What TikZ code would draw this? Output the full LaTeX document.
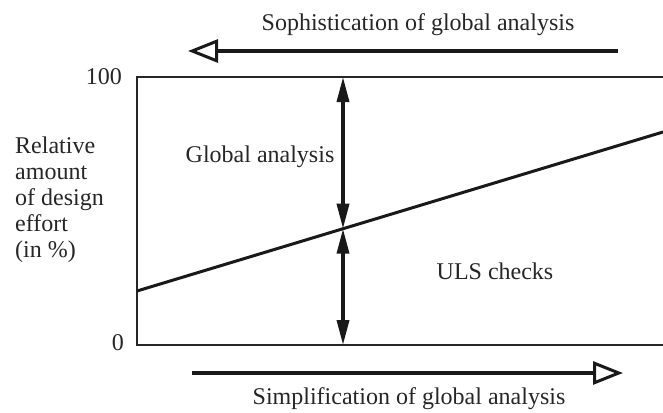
\documentclass[tikz,border=0pt]{standalone}
\usepackage{fontspec}
\setmainfont{Liberation Serif}
\usetikzlibrary{arrows.meta,positioning}

\begin{document}
\begin{tikzpicture}[x=1pt,y=-1pt,
  font=\fontsize{24}{26}\selectfont,
  lbl/.style={inner sep=0pt, text=black!85},
  frame/.style={draw=black!85, line width=2pt},
  effort/.style={draw=black!90, line width=3pt},
  share/.style={draw=black!90, line width=3.5pt,
                {Triangle[length=25pt,width=12pt]}-{Triangle[length=25pt,width=12pt]}},
  trend/.style={draw=black!90, line width=4pt,
                -{Triangle[open,length=30pt,width=23pt,line width=3pt]}}]
  \useasboundingbox (0,0) rectangle (663,412);
  \clip (0,0) rectangle (663,412);
  % diagram frame, open on the right
  \draw[frame] (690,77) -| (137,345) -- (690,345);
  \coordinate (lineL) at (137,291);
  \coordinate (lineR) at (663,132);
  \coordinate (top) at (343,77);
  \coordinate (mid) at (343,228.7);
  \coordinate (bot) at (343,345);
  \draw[effort] (lineL) -- (lineR);
  \draw[share] (top) -- (mid);
  \draw[share] (mid) -- (bot);
  % axis labels
  \node[lbl, anchor=east] (hundred) at (122,77) {100};
  \node[lbl, anchor=east] (zero) at (124,343) {0};
  \node[lbl, anchor=north west, align=left] (yaxis) at (15,137)
        {Relative\\amount\\of design\\effort\\(in \%)};
  \node[lbl] (glob) at (260,157) {Global analysis};
  \node[lbl] (uls) at (495,271) {ULS checks};
  % trends
  \coordinate (sophA) at (618,51);
  \coordinate (sophB) at (188,51);
  \draw[trend] (sophA) -- (sophB);
  \node[lbl] (soph) at (418,25) {Sophistication of global analysis};
  \coordinate (simpA) at (192,373);
  \coordinate (simpB) at (623,373);
  \draw[trend] (simpA) -- (simpB);
  \node[lbl] (simp) at (409,399) {Simplification of global analysis};
\end{tikzpicture}
\end{document}
